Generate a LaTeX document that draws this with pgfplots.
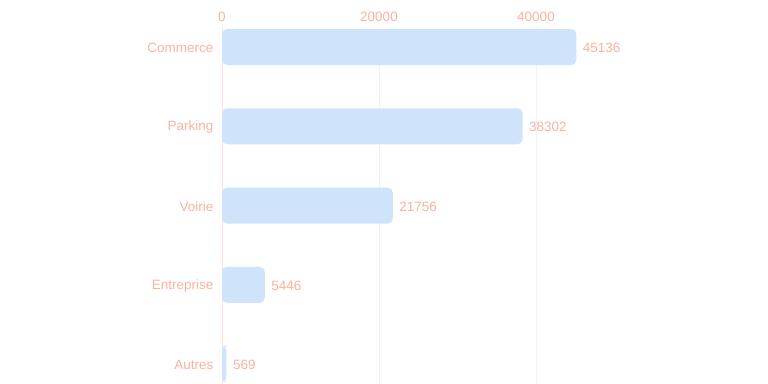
\documentclass[border=0pt]{standalone}
\usepackage{fontspec}
\setmainfont{Liberation Sans}
\usepackage{pgfplots}
\pgfplotsset{compat=1.18}
\definecolor{salmon}{HTML}{F7B3A0}
\definecolor{barblue}{HTML}{CFE3FA}
\definecolor{axispink}{HTML}{FBE3DC}
\definecolor{gridgray}{HTML}{F2F2F2}
\begin{document}
\begin{tikzpicture}
\useasboundingbox (0pt,0pt) rectangle (768pt,-383pt);
\begin{axis}[
  scale only axis,
  width=392.5pt, height=356.6pt,
  at={(222pt,-383.8pt)}, anchor=south west,
  xmin=0, xmax=50000,
  ymin=-0.25, ymax=4.25,
  y dir=reverse,
  xbar, bar width=36pt,
  axis x line*=top, axis y line*=left,
  x axis line style={draw=none},
  y axis line style={draw=axispink, line width=1pt},
  xtick={0,20000,40000},
  scaled x ticks=false,
  ytick={0,1,2,3,4},
  yticklabels={Commerce,Parking,Voirie,Entreprise,Autres},
  major tick length=0pt,
  xmajorgrids, grid style={draw=gridgray, line width=0.8pt},
  /pgf/number format/1000 sep={},
  /pgf/number format/assume math mode=true,
  tick label style={font=\fontsize{13.5}{15}\selectfont, text=salmon},
  xticklabel style={yshift=2pt},
  yticklabel style={xshift=-5pt, yshift=-1pt},
  nodes near coords,
  nodes near coords style={font=\fontsize{13.5}{15}\selectfont, text=salmon, xshift=3pt, yshift=-1pt},
  every node near coord/.append style={/pgf/number format/1000 sep={}, /pgf/number format/assume math mode=true},
]
\addplot[fill=barblue, draw=none, rounded corners=5pt] coordinates {
  (45136,0) (38302,1) (21756,2) (5446,3) (569,4)
};
\end{axis}
\end{tikzpicture}
\end{document}
